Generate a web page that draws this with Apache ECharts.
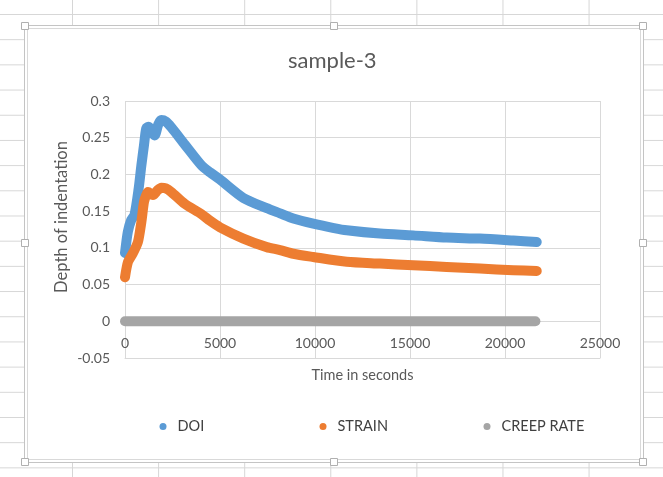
<!DOCTYPE html>
<html>
<head>
<meta charset="utf-8">
<script src="https://cdn.jsdelivr.net/npm/echarts@6/dist/echarts.min.js"></script>
<style>
  html, body { margin: 0; padding: 0; }
  body {
    width: 663px; height: 477px; overflow: hidden;
    background-color: #ffffff;
    background-image:
      linear-gradient(to right, #d6d6d6 1px, transparent 1px),
      linear-gradient(to bottom, #d6d6d6 1px, transparent 1px);
    background-size: 86.1px 25.2px, 86.1px 25.2px;
    background-position: 72px 14px, 72px 14px;
  }
  #chart { width: 663px; height: 477px; }
</style>
</head>
<body>
<div id="chart"></div>
<script>
// ---- data ----
const chartTitle = 'sample-3';
const xAxisTitle = 'Time in seconds';
const yAxisTitle = 'Depth of indentation';
const seriesNames = ['DOI', 'STRAIN', 'CREEP RATE'];

const doiTime  = [0, 150, 330, 500, 720, 860, 1000, 1120, 1250, 1390, 1560, 1750, 1910, 2150, 2440, 3140, 4020, 4470, 5000, 6230, 7460, 8160, 8860, 9910, 11000, 11670, 13420, 15170, 16930, 18680, 20440, 21670];
const doiValue = [0.093, 0.122, 0.138, 0.145, 0.181, 0.212, 0.240, 0.263, 0.265, 0.258, 0.253, 0.268, 0.274, 0.272, 0.264, 0.241, 0.2125, 0.203, 0.193, 0.168, 0.154, 0.147, 0.140, 0.133, 0.127, 0.124, 0.1195, 0.117, 0.114, 0.1126, 0.110, 0.108];

const strainTime  = [0, 160, 420, 680, 860, 1000, 1120, 1210, 1470, 1700, 1910, 2150, 2440, 3140, 4020, 4470, 5000, 6230, 7460, 8160, 8860, 9910, 11670, 13420, 15170, 16930, 18680, 20440, 21670];
const strainValue = [0.060, 0.081, 0.093, 0.108, 0.135, 0.1625, 0.172, 0.176, 0.172, 0.178, 0.182, 0.181, 0.176, 0.160, 0.146, 0.137, 0.128, 0.1126, 0.101, 0.097, 0.092, 0.0876, 0.081, 0.0786, 0.0763, 0.074, 0.0718, 0.0695, 0.0685];

const creepTime  = [0, 2000, 5000, 10000, 15000, 20000, 21600];
const creepValue = [0, 0, 0, 0, 0, 0, 0];

const xMin = 0, xMax = 25000, xStep = 5000;
const yMin = -0.05, yMax = 0.3, yStep = 0.05;

// ---- build chart ----
const zip = (a, b) => a.map((v, i) => [v, b[i]]);
const colors = ['#5B9BD5', '#ED7D31', '#A5A5A5'];
const FONT = 'Lato, "Liberation Sans", sans-serif';

const chart = echarts.init(document.getElementById('chart'), null, { renderer: 'canvas' });

function mkSeries(name, data, color) {
  return {
    name: name, type: 'line', data: data,
    showSymbol: false, symbol: 'circle', smooth: 0.25,
    lineStyle: { width: 10, color: color, cap: 'round', join: 'round' },
    itemStyle: { color: color },
    emphasis: { disabled: true }
  };
}

function mkLegend(name, left) {
  return {
    data: [name], left: left, top: 419, padding: 0,
    icon: 'circle', itemWidth: 7, itemHeight: 7,
    textStyle: { color: '#404040', fontSize: 14.5, fontFamily: FONT, padding: [0, 0, 0, 6] }
  };
}

const handle = (x, y) => ({
  type: 'rect', shape: { x: x - 3.5, y: y - 3.5, width: 7, height: 7 },
  style: { fill: '#ffffff', stroke: '#b0b0b0', lineWidth: 1 }, z: -1
});

chart.setOption({
  animation: false,
  backgroundColor: 'transparent',
  color: colors,
  title: {
    text: chartTitle, left: 288, top: 50, padding: 0,
    textStyle: { color: '#595959', fontSize: 22, fontWeight: 'normal', fontFamily: FONT }
  },
  graphic: [
    { type: 'rect', shape: { x: 24.5, y: 25.5, width: 619, height: 437 }, style: { fill: '#ffffff', stroke: '#c4c4c4', lineWidth: 1 }, z: -2 },
    { type: 'rect', shape: { x: 27.5, y: 28.5, width: 613, height: 431 }, style: { fill: '#ffffff', stroke: '#d9d9d9', lineWidth: 1 }, z: -2 },
    handle(25, 26), handle(334, 26), handle(643, 26),
    handle(25, 243), handle(643, 243),
    handle(25, 462), handle(334, 462), handle(643, 462),
    {
      type: 'text', x: 62, y: 217, rotation: Math.PI / 2,
      style: { text: yAxisTitle, fill: '#595959', font: '16.5px ' + FONT, textAlign: 'center', textVerticalAlign: 'middle' }
    }
  ],
  legend: [
    mkLegend(seriesNames[0], 159.5),
    mkLegend(seriesNames[1], 319.5),
    mkLegend(seriesNames[2], 483.5)
  ],
  grid: { left: 125, right: 63, top: 101, bottom: 119, containLabel: false },
  xAxis: {
    type: 'value', min: xMin, max: xMax, interval: xStep,
    name: xAxisTitle, nameLocation: 'middle', nameGap: 10,
    nameTextStyle: { color: '#595959', fontSize: 14.5, fontFamily: FONT },
    axisLine: { show: true, onZero: false, lineStyle: { color: '#d9d9d9' } },
    axisTick: { show: false },
    axisLabel: { color: '#595959', fontSize: 14, fontFamily: FONT, inside: true, margin: 8, formatter: v => String(v) },
    splitLine: { show: true, lineStyle: { color: '#d9d9d9', width: 1 } }
  },
  yAxis: {
    type: 'value', min: yMin, max: yMax, interval: yStep,
    axisLine: { show: false },
    axisTick: { show: false },
    axisLabel: {
      color: '#595959', fontSize: 14, fontFamily: FONT, margin: 15,
      formatter: v => String(+v.toFixed(2))
    },
    splitLine: { show: true, lineStyle: { color: '#d9d9d9', width: 1 } }
  },
  series: [
    mkSeries(seriesNames[0], zip(doiTime, doiValue), colors[0]),
    mkSeries(seriesNames[1], zip(strainTime, strainValue), colors[1]),
    mkSeries(seriesNames[2], zip(creepTime, creepValue), colors[2])
  ]
});
</script>
</body>
</html>
